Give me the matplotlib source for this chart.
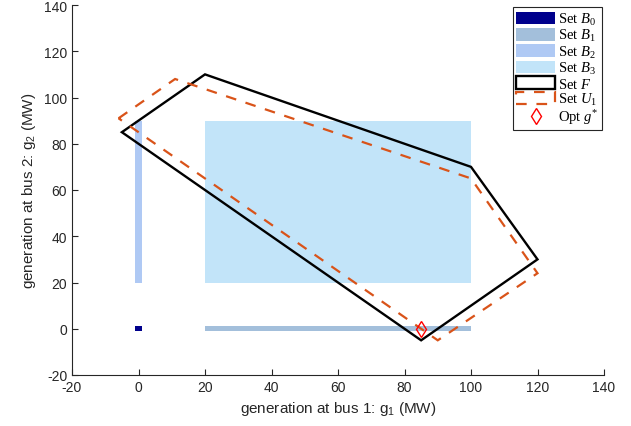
import matplotlib
matplotlib.use("Agg")
import matplotlib.pyplot as plt
from matplotlib.patches import Polygon, Rectangle

# ---- data ----
F_g1 = [-5, 20, 100, 120, 85]
F_g2 = [85, 110, 70, 30, -5]
U1_g1 = [-6, 11, 100, 120, 90]
U1_g2 = [91, 108, 65, 24, -5]
B0_g1 = [-1, 1]; B0_g2 = [-1, 1]
B1_g1 = [20, 100]; B1_g2 = [-1, 1]
B2_g1 = [-1, 1]; B2_g2 = [20, 90]
B3_g1 = [20, 100]; B3_g2 = [20, 90]
opt_g1 = [85]; opt_g2 = [0]
xticks = list(range(-20, 141, 20))
yticks = list(range(-20, 141, 20))

plt.rcParams['font.family'] = ['Liberation Sans', 'DejaVu Sans']
plt.rcParams['axes.unicode_minus'] = False
plt.rcParams['mathtext.fontset'] = 'custom'
plt.rcParams['mathtext.rm'] = 'Liberation Serif'
plt.rcParams['mathtext.it'] = 'Liberation Serif:italic'
plt.rcParams['mathtext.sf'] = 'Liberation Sans'

fig = plt.figure(figsize=(6.31, 4.27), dpi=100)
ax = fig.add_axes([72/631, 51/427, 532/631, 370/427])

c_B0 = '#00008C'
c_B1 = '#A3BFDB'
c_B2 = '#AFC9F4'
c_B3 = '#C2E4F9'

def rect(gx, gy, color, label):
    r = Rectangle((gx[0], gy[0]), gx[1]-gx[0], gy[1]-gy[0], facecolor=color,
                  edgecolor='none', label=label)
    ax.add_patch(r)
    return r

h3 = rect(B3_g1, B3_g2, c_B3, r'Set $B_3$')
h2 = rect(B2_g1, B2_g2, c_B2, r'Set $B_2$')
h1 = rect(B1_g1, B1_g2, c_B1, r'Set $B_1$')
h0 = rect(B0_g1, B0_g2, c_B0, r'Set $B_0$')

hF = Polygon(list(zip(F_g1, F_g2)), closed=True, fill=False, edgecolor='black',
             linewidth=1.7, label=r'Set $F$')
ax.add_patch(hF)
hU = Polygon(list(zip(U1_g1, U1_g2)), closed=True, fill=False, edgecolor='#D95319',
             linewidth=1.6, linestyle=(0, (4.8, 4.4)), label=r'Set $U_1$')
hU.set_capstyle('butt')
ax.add_patch(hU)
hO, = ax.plot(opt_g1, opt_g2, linestyle='none', marker='d', markersize=8,
              markerfacecolor='none', markeredgecolor='red', markeredgewidth=1.0,
              label=r'Opt $g^{*}$')

ax.set_xlim(-20, 140)
ax.set_ylim(-20, 140)
ax.set_xticks(xticks)
ax.set_yticks(yticks)
for s in ['top', 'right']:
    ax.spines[s].set_visible(False)
for s in ['left', 'bottom']:
    ax.spines[s].set_color('#262626')
    ax.spines[s].set_linewidth(0.8)
ax.tick_params(direction='in', length=4, width=0.8, colors='#262626',
               labelsize=10, labelcolor='#262626')
ax.set_xlabel(r'generation at bus 1: g$_\mathsf{1}$ (MW)', fontsize=11, color='#262626')
ax.set_ylabel(r'generation at bus 2: g$_\mathsf{2}$ (MW)', fontsize=11, color='#262626')

leg = ax.legend(handles=[h0, h1, h2, h3, hF, hU, hO], loc='upper right',
                bbox_to_anchor=(1.0, 1.0), borderaxespad=0.15,
                prop={'family': 'Liberation Serif', 'size': 10.5},
                handlelength=2.65, handleheight=0.95, handletextpad=0.2,
                labelspacing=0.02, borderpad=0.25, fancybox=False, framealpha=1)
leg.get_frame().set_edgecolor('#262626')
leg.get_frame().set_linewidth(0.8)

fig.savefig('out.png', dpi=100)
